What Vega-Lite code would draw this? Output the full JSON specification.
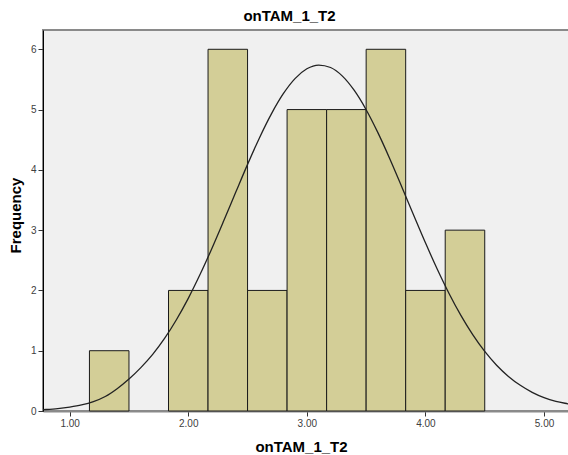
{
  "$schema": "https://vega.github.io/schema/vega-lite/v6.json",
  "autosize": "none",
  "width": 527,
  "height": 381,
  "padding": {"left": 43, "top": 30, "right": 0, "bottom": 44},
  "background": "white",
  "view": {"fill": "#F0F0F0", "stroke": "#8A8A8A", "strokeWidth": 2},
  "title": {
    "text": "onTAM_1_T2",
    "font": "Liberation Sans",
    "fontSize": 15,
    "fontWeight": "bold",
    "color": "black",
    "anchor": "middle",
    "dx": -17,
    "offset": 6
  },
  "datasets": {
    "bins": [
      {"bin_start": 1.1667, "bin_end": 1.5, "count": 1},
      {"bin_start": 1.8333, "bin_end": 2.1667, "count": 2},
      {"bin_start": 2.1667, "bin_end": 2.5, "count": 6},
      {"bin_start": 2.5, "bin_end": 2.8333, "count": 2},
      {"bin_start": 2.8333, "bin_end": 3.1667, "count": 5},
      {"bin_start": 3.1667, "bin_end": 3.5, "count": 5},
      {"bin_start": 3.5, "bin_end": 3.8333, "count": 6},
      {"bin_start": 3.8333, "bin_end": 4.1667, "count": 2},
      {"bin_start": 4.1667, "bin_end": 4.5, "count": 3}
    ],
    "curve": [
      {"x": 0.7, "y": 0.015}, {"x": 0.8, "y": 0.025}, {"x": 0.9, "y": 0.040},
      {"x": 1.0, "y": 0.065}, {"x": 1.1, "y": 0.100}, {"x": 1.2, "y": 0.155},
      {"x": 1.3, "y": 0.240}, {"x": 1.4, "y": 0.370}, {"x": 1.5, "y": 0.530},
      {"x": 1.6, "y": 0.720}, {"x": 1.7, "y": 0.939}, {"x": 1.8, "y": 1.203},
      {"x": 1.9, "y": 1.514}, {"x": 2.0, "y": 1.869}, {"x": 2.1, "y": 2.267},
      {"x": 2.2, "y": 2.701}, {"x": 2.3, "y": 3.159}, {"x": 2.4, "y": 3.627},
      {"x": 2.5, "y": 4.091}, {"x": 2.6, "y": 4.530}, {"x": 2.7, "y": 4.925},
      {"x": 2.8, "y": 5.259}, {"x": 2.9, "y": 5.514}, {"x": 3.0, "y": 5.677},
      {"x": 3.1, "y": 5.739}, {"x": 3.2, "y": 5.698}, {"x": 3.3, "y": 5.555},
      {"x": 3.4, "y": 5.317}, {"x": 3.5, "y": 4.998}, {"x": 3.6, "y": 4.613},
      {"x": 3.7, "y": 4.181}, {"x": 3.8, "y": 3.721}, {"x": 3.9, "y": 3.252},
      {"x": 4.0, "y": 2.790}, {"x": 4.1, "y": 2.351}, {"x": 4.2, "y": 1.945},
      {"x": 4.3, "y": 1.581}, {"x": 4.4, "y": 1.262}, {"x": 4.5, "y": 0.988},
      {"x": 4.6, "y": 0.760}, {"x": 4.7, "y": 0.574}, {"x": 4.8, "y": 0.426},
      {"x": 4.9, "y": 0.310}, {"x": 5.0, "y": 0.222}, {"x": 5.1, "y": 0.160},
      {"x": 5.2, "y": 0.120}, {"x": 5.3, "y": 0.085}
    ]
  },
  "encoding": {
    "x": {
      "type": "quantitative",
      "scale": {"domain": [0.775, 5.219], "nice": false, "zero": false},
      "axis": {
        "title": "onTAM_1_T2",
        "values": [1, 2, 3, 4, 5],
        "format": ".2f",
        "grid": false,
        "domainColor": "#8A8A8A",
        "domainWidth": 2,
        "tickColor": "#333333",
        "tickSize": 5,
        "labelFont": "Liberation Sans",
        "labelFontSize": 10,
        "labelColor": "#404040",
        "labelPadding": 2,
        "titleFont": "Liberation Sans",
        "titleFontSize": 15,
        "titleFontWeight": "bold",
        "titleColor": "black",
        "titleX": 258,
        "titleY": 35,
        "titleBaseline": "middle"
      }
    },
    "y": {
      "type": "quantitative",
      "scale": {"domain": [0, 6.32], "nice": false},
      "axis": {
        "title": "Frequency",
        "values": [0, 1, 2, 3, 4, 5, 6],
        "grid": false,
        "domainColor": "black",
        "domainWidth": 1,
        "tickColor": "#333333",
        "tickSize": 5,
        "labelFont": "Liberation Sans",
        "labelFontSize": 10,
        "labelColor": "#404040",
        "labelPadding": 2,
        "titleFont": "Liberation Sans",
        "titleFontSize": 15,
        "titleFontWeight": "bold",
        "titleColor": "black",
        "titleX": -28,
        "titleY": 185,
        "titleBaseline": "middle"
      }
    }
  },
  "layer": [
    {
      "data": {"name": "bins"},
      "mark": {"type": "rect", "fill": "#D3CE97", "stroke": "#1A1A1A", "strokeWidth": 1},
      "encoding": {
        "x": {"field": "bin_start", "type": "quantitative"},
        "x2": {"field": "bin_end"},
        "y": {"field": "count", "type": "quantitative"},
        "y2": {"datum": 0}
      }
    },
    {
      "data": {"name": "curve"},
      "mark": {"type": "line", "color": "#222222", "strokeWidth": 1.3, "interpolate": "monotone", "clip": true},
      "encoding": {
        "x": {"field": "x", "type": "quantitative"},
        "y": {"field": "y", "type": "quantitative"}
      }
    }
  ]
}
